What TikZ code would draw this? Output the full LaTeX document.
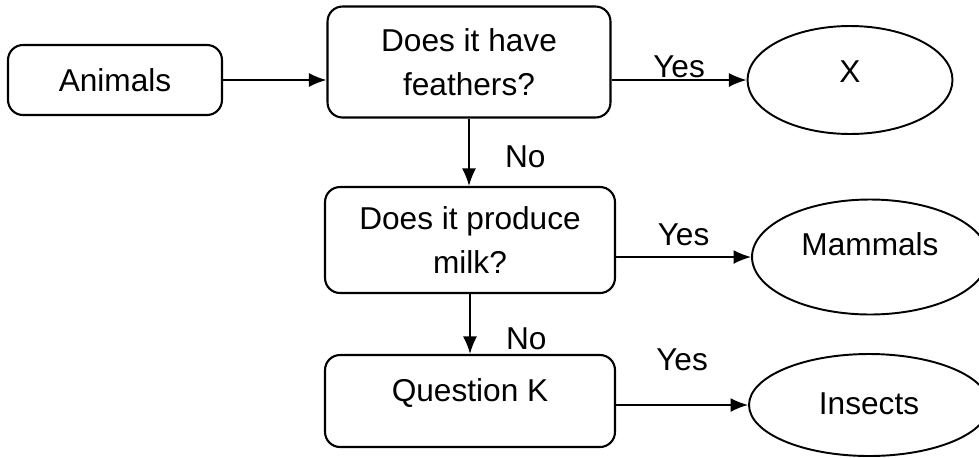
\documentclass[tikz,border=0pt]{standalone}
\usepackage{fontspec}
\setmainfont{Liberation Sans}
\usetikzlibrary{shapes.geometric, arrows.meta, positioning}

\begin{document}
\begin{tikzpicture}[x=0.02cm, y=-0.02cm,
  box/.style={rectangle, draw, rounded corners=0.3cm, line width=1.2pt, align=center, font=\fontsize{18}{25}\selectfont},
  leaf/.style={ellipse, draw, line width=1.1pt, inner sep=0pt, text height=13pt, font=\fontsize{18}{25}\selectfont},
  arr/.style={-{Latex[length=10pt, width=8pt]}, line width=1pt},
  lbl/.style={inner sep=2pt, font=\fontsize{18}{25}\selectfont}]
\useasboundingbox (0,0) rectangle (979,457);

\node[box, minimum width=4.28cm, minimum height=1.4cm] (animals) at (115,80) {Animals};
\node[box, minimum width=5.66cm, minimum height=2.22cm] (feathers) at (469,62) {Does it have\\feathers?};
\node[box, minimum width=5.8cm, minimum height=2.12cm] (milk) at (470,240) {Does it produce\\milk?};
\node[box, minimum width=5.8cm, minimum height=1.84cm, text height=13pt, text depth=12pt] (questk) at (470,401) {Question K};

\node[leaf, minimum width=4.1cm, minimum height=2.16cm, text depth=10pt] (birds) at (850,80) {X};
\node[leaf, minimum width=4.72cm, minimum height=2.3cm, text depth=15pt] (mammals) at (870,257) {Mammals};
\node[leaf, minimum width=4.8cm, minimum height=2.04cm, text depth=2pt] (insects) at (869,405) {Insects};

\draw[arr] (animals) -- (animals -| feathers.west);
\draw[arr] (feathers.east |- birds) -- node[lbl, above=-1pt] {Yes} (birds);
\draw[arr] (feathers.south) -- node[lbl, pos=0.57, right=18pt] {No} (feathers.south |- milk.north);
\draw[arr] (milk.east |- mammals) -- node[lbl, above=4pt] {Yes} (mammals);
\draw[arr] (milk.south) -- node[lbl, pos=0.74, right=18pt] {No} (milk.south |- questk.north);
\draw[arr] (questk.east |- insects) -- node[lbl, above=17pt] {Yes} (insects);
\end{tikzpicture}
\end{document}
